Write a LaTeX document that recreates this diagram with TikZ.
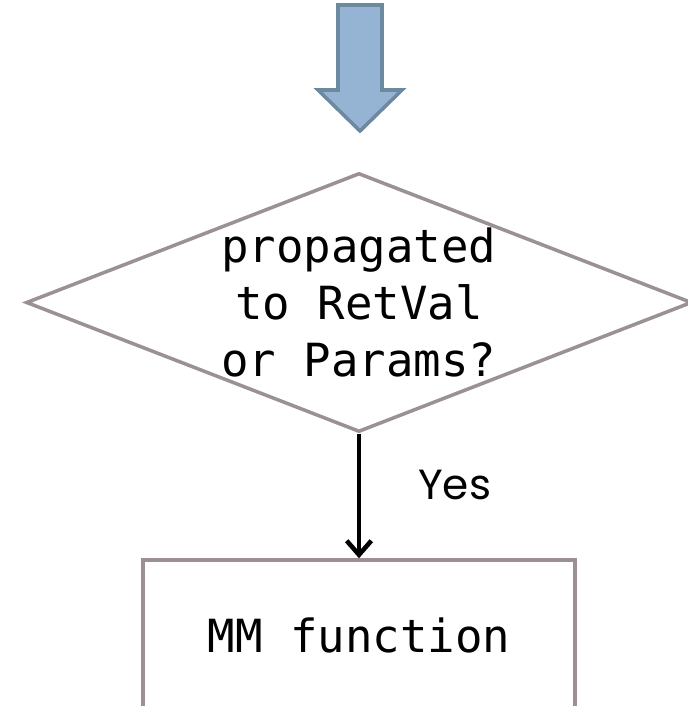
\documentclass[tikz,border=0pt]{standalone}
\usepackage{fontspec}
\newfontfamily\codefont{DejaVu Sans Mono}
\newfontfamily\yesfont{Poppins}
\usetikzlibrary{shapes.geometric,arrows.meta}
\definecolor{framegray}{RGB}{155,145,145}
\definecolor{arrowfill}{RGB}{149,180,212}
\definecolor{arrowline}{RGB}{108,137,160}

\begin{document}
\begin{tikzpicture}[x=0.02cm, y=-0.02cm,
		decision/.style={diamond, draw=framegray, line width=2pt, inner sep=0pt,
			minimum width=13.32cm, minimum height=5.18cm},
		codetext/.style={font=\codefont\fontsize{26}{32.3}\selectfont, align=center, inner sep=0pt},
		codebox/.style={draw=framegray, line width=2pt, minimum width=8.64cm, minimum height=3cm,
			font=\codefont\fontsize{26}{32.3}\selectfont},
		flowline/.style={line width=2.6pt, -{Straight Barb[length=8pt, width=14pt]}}]
		\useasboundingbox (0,0) rectangle (687,706);

		% incoming block arrow
		\filldraw[fill=arrowfill, draw=arrowline, line width=2pt]
			(338,5) -- (382,5) -- (382,90) -- (402,90) -- (360,131) -- (318,90) -- (338,90) -- cycle;

		\node[decision] (prop) at (359,302.5) {};
		\node[codetext] (ask) at (prop.center) {propagated\\to RetVal\\or Params?};

		\node[codebox] (mm) at (359,635) {MM function};

		\draw[flowline] (prop.south) -- node[pos=0.41, anchor=west, xshift=1.14cm, inner sep=0pt,
			font=\yesfont\fontsize{24}{28}\selectfont] (yes) {Yes} (mm.north);
	\end{tikzpicture}
\end{document}
